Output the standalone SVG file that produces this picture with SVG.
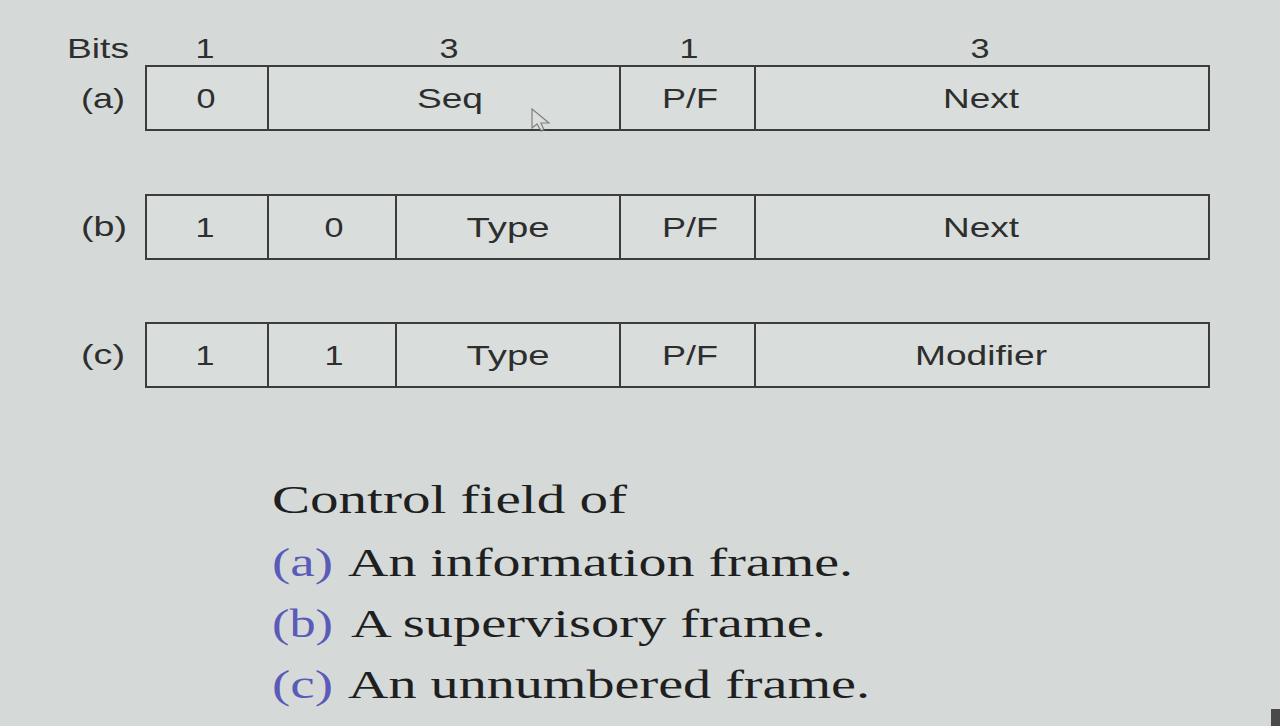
<svg xmlns="http://www.w3.org/2000/svg" width="1280" height="726" viewBox="0 0 1280 726">
<style>
.cell{fill:#d9dedc;stroke:#3c3c3c;stroke-width:2}
.s{font-family:"Liberation Sans",Arial,sans-serif;font-size:28px;fill:#2e2e2e;text-anchor:middle}
.lab{font-family:"Liberation Sans",Arial,sans-serif;font-size:28px;fill:#2e2e2e}
.serif{font-family:"Liberation Serif","Times New Roman",serif;font-size:40px;fill:#1f1f1f}
.blue{fill:#5a5ab8}
</style>
<rect x="0" y="0" width="1280" height="726" fill="#d5dad8"/>
<g id="header">
<text class="lab" x="67" y="58" textLength="62" lengthAdjust="spacingAndGlyphs">Bits</text>
<text class="s" x="205" y="58" textLength="19" lengthAdjust="spacingAndGlyphs">1</text>
<text class="s" x="449" y="58" textLength="19" lengthAdjust="spacingAndGlyphs">3</text>
<text class="s" x="689" y="58" textLength="19" lengthAdjust="spacingAndGlyphs">1</text>
<text class="s" x="980" y="58" textLength="19" lengthAdjust="spacingAndGlyphs">3</text>
</g>
<g id="row-a">
<text class="lab" x="81" y="108" textLength="44" lengthAdjust="spacingAndGlyphs">(a)</text>
<g id="a-bit0"><rect class="cell" x="146" y="66" width="122" height="64"/><text class="s" x="206" y="108" textLength="19" lengthAdjust="spacingAndGlyphs">0</text></g>
<g id="a-seq"><rect class="cell" x="268" y="66" width="352" height="64"/><text class="s" x="450" y="108" textLength="66" lengthAdjust="spacingAndGlyphs">Seq</text></g>
<g id="a-pf"><rect class="cell" x="620" y="66" width="135" height="64"/><text class="s" x="690" y="108" textLength="56" lengthAdjust="spacingAndGlyphs">P/F</text></g>
<g id="a-next"><rect class="cell" x="755" y="66" width="454" height="64"/><text class="s" x="981" y="108" textLength="76" lengthAdjust="spacingAndGlyphs">Next</text></g>
</g>
<g id="row-b">
<text class="lab" x="81" y="236" textLength="46" lengthAdjust="spacingAndGlyphs">(b)</text>
<g id="b-bit0"><rect class="cell" x="146" y="195" width="122" height="64"/><text class="s" x="205" y="237" textLength="19" lengthAdjust="spacingAndGlyphs">1</text></g>
<g id="b-bit1"><rect class="cell" x="268" y="195" width="128" height="64"/><text class="s" x="334" y="237" textLength="19" lengthAdjust="spacingAndGlyphs">0</text></g>
<g id="b-type"><rect class="cell" x="396" y="195" width="224" height="64"/><text class="s" x="508" y="237" textLength="83" lengthAdjust="spacingAndGlyphs">Type</text></g>
<g id="b-pf"><rect class="cell" x="620" y="195" width="135" height="64"/><text class="s" x="690" y="237" textLength="56" lengthAdjust="spacingAndGlyphs">P/F</text></g>
<g id="b-next"><rect class="cell" x="755" y="195" width="454" height="64"/><text class="s" x="981" y="237" textLength="76" lengthAdjust="spacingAndGlyphs">Next</text></g>
</g>
<g id="row-c">
<text class="lab" x="81" y="364" textLength="44" lengthAdjust="spacingAndGlyphs">(c)</text>
<g id="c-bit0"><rect class="cell" x="146" y="323" width="122" height="64"/><text class="s" x="205" y="365" textLength="19" lengthAdjust="spacingAndGlyphs">1</text></g>
<g id="c-bit1"><rect class="cell" x="268" y="323" width="128" height="64"/><text class="s" x="334" y="365" textLength="19" lengthAdjust="spacingAndGlyphs">1</text></g>
<g id="c-type"><rect class="cell" x="396" y="323" width="224" height="64"/><text class="s" x="508" y="365" textLength="83" lengthAdjust="spacingAndGlyphs">Type</text></g>
<g id="c-pf"><rect class="cell" x="620" y="323" width="135" height="64"/><text class="s" x="690" y="365" textLength="56" lengthAdjust="spacingAndGlyphs">P/F</text></g>
<g id="c-mod"><rect class="cell" x="755" y="323" width="454" height="64"/><text class="s" x="981" y="365" textLength="132" lengthAdjust="spacingAndGlyphs">Modifier</text></g>
</g>
<g id="caption">
<text class="serif" x="272" y="513" textLength="355" lengthAdjust="spacingAndGlyphs">Control field of</text>
<text class="serif blue" x="272" y="576" textLength="61" lengthAdjust="spacingAndGlyphs">(a)</text>
<text class="serif" x="348" y="576" textLength="505" lengthAdjust="spacingAndGlyphs">An information frame.</text>
<text class="serif blue" x="272" y="637" textLength="61" lengthAdjust="spacingAndGlyphs">(b)</text>
<text class="serif" x="351" y="637" textLength="475" lengthAdjust="spacingAndGlyphs">A supervisory frame.</text>
<text class="serif blue" x="272" y="698" textLength="61" lengthAdjust="spacingAndGlyphs">(c)</text>
<text class="serif" x="348" y="698" textLength="522" lengthAdjust="spacingAndGlyphs">An unnumbered frame.</text>
</g>
<path d="M532,109 L532,128 L537,124 L541,131 L544,130 L541,123 L549,123 Z" fill="#dcdfde" stroke="#6a6a6a" stroke-width="1.2" opacity="0.8"/>
<rect x="1271" y="709" width="9" height="17" fill="#4a4a4a"/>
</svg>
